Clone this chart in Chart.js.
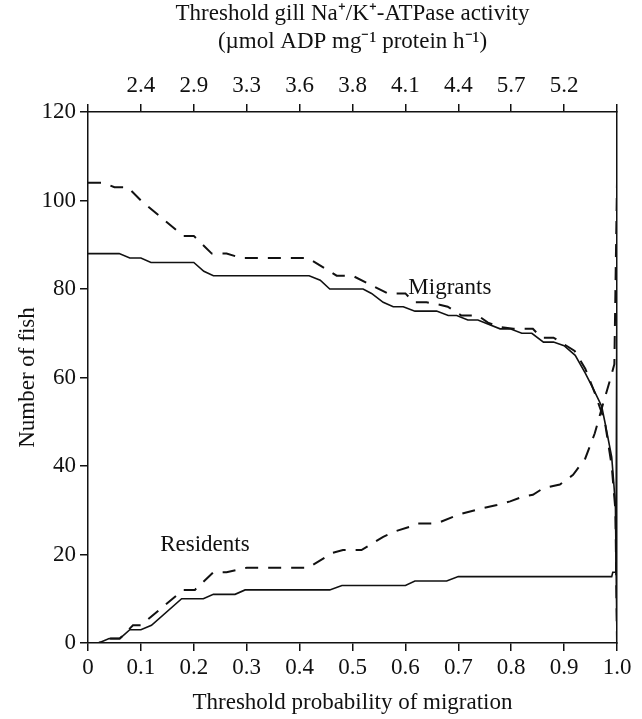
<!DOCTYPE html>
<html>
<head>
<meta charset="utf-8">
<script src="https://cdn.jsdelivr.net/npm/chart.js@4.4.1/dist/chart.umd.min.js"></script>
<style>
  body { margin: 0; background: #fff; }
  #wrap { width: 642px; height: 719px; }
</style>
</head>
<body>
<div id="wrap"><canvas id="fishChart"></canvas></div>
<script>
// --- Data ---
const topTickLabels = ['', '2.4', '2.9', '3.3', '3.6', '3.8', '4.1', '4.4', '5.7', '5.2', ''];

const migrantsX = [0, 0.059, 0.079, 0.1, 0.119, 0.2, 0.219, 0.237, 0.418, 0.439, 0.457, 0.52, 0.536, 0.558, 0.577, 0.596,
  0.618, 0.659, 0.681, 0.697, 0.718, 0.737, 0.779, 0.798, 0.82, 0.839, 0.861, 0.88, 0.9, 0.921, 0.94, 0.955, 0.971,
  0.977, 0.99, 0.994, 0.997, 1.0];
const migrantsY = [88, 88, 87, 87, 86, 86, 84, 83, 83, 82, 80, 80, 79, 77, 76, 76,
  75, 75, 74, 74, 73, 73, 71, 71, 70, 70, 68, 68, 67.2, 65, 61, 57.5, 53.5,
  50, 42, 36, 31, 0];

const migrantsAltX = [0, 0.03, 0.05, 0.075, 0.1, 0.18, 0.2, 0.234, 0.262, 0.29, 0.416, 0.47, 0.5, 0.567, 0.6, 0.616,
  0.64, 0.662, 0.68, 0.706, 0.737, 0.756, 0.779, 0.804, 0.841, 0.857, 0.88, 0.9, 0.92, 0.94, 0.958, 0.977,
  0.99, 0.997, 1.0];
const migrantsAltY = [104, 104, 103, 103, 100, 92, 92, 88, 88, 87, 87, 83, 83, 79, 79, 77,
  77, 76.5, 76, 74, 74, 72.4, 71.4, 71, 71, 69, 69, 67.5, 66, 62, 56.5, 50,
  40, 30, 0];

const residentsX = [0, 0.02, 0.04, 0.06, 0.079, 0.1, 0.12, 0.177, 0.218, 0.237, 0.278, 0.297, 0.457, 0.48, 0.6,
  0.618, 0.678, 0.7, 0.99, 0.992, 0.998, 1.0];
const residentsY = [0, 0, 1, 1, 3, 3, 4, 10, 10, 11, 11, 12, 12, 13, 13,
  14, 14, 15, 15, 16, 16, 88];

const residentsAltX = [0, 0.02, 0.04, 0.06, 0.085, 0.1, 0.18, 0.202, 0.237, 0.262, 0.3, 0.416, 0.463, 0.482, 0.517,
  0.558, 0.58, 0.609, 0.621, 0.659, 0.7, 0.747, 0.773, 0.798, 0.82, 0.841, 0.861, 0.892, 0.917, 0.94, 0.958,
  0.974, 0.987, 0.995, 1.0];
const residentsAltY = [0, 0, 1, 1, 4, 4, 12, 12, 16, 16, 17, 17, 20.4, 21, 21,
  24, 25.2, 26.3, 27, 27, 29, 30.5, 31.2, 32, 33, 33.5, 35, 35.8, 38, 41.7, 47.4,
  54.2, 59.5, 63, 104];

// curve labels, in data units
const curveLabels = [
  { text: 'Migrants', x: 0.684, y: 80.2 },
  { text: 'Residents', x: 0.221, y: 22.1 }
];

const serif = "'Liberation Serif', 'Times New Roman', serif";

function toPoints(xs, ys) {
  return xs.map((x, i) => ({ x: x, y: ys[i] }));
}

function lineSet(xs, ys, dashed) {
  return {
    data: toPoints(xs, ys),
    borderColor: '#111',
    borderWidth: dashed ? 2 : 1.6,
    borderDash: dashed ? [13, 10] : [],
    pointRadius: 0,
    tension: 0,
    fill: false
  };
}

// --- Plugin for the "Migrants" / "Residents" labels ---
const curveLabelPlugin = {
  id: 'curveLabels',
  afterDatasetsDraw(chart) {
    const ctx = chart.ctx;
    const xs = chart.scales.x;
    const ys = chart.scales.y;
    ctx.save();
    ctx.fillStyle = '#111';
    ctx.font = '23px ' + serif;
    ctx.textAlign = 'center';
    ctx.textBaseline = 'middle';
    curveLabels.forEach(l => {
      ctx.fillText(l.text, xs.getPixelForValue(l.x), ys.getPixelForValue(l.y));
    });
    ctx.restore();
  }
};

const axisGrid = { drawOnChartArea: false, drawTicks: true, tickLength: 8, color: '#111', lineWidth: 1.5 };
const axisBorder = { display: true, color: '#111', width: 1.5 };

new Chart(document.getElementById('fishChart'), {
  type: 'line',
  data: {
    datasets: [
      lineSet(migrantsX, migrantsY, false),
      lineSet(migrantsAltX, migrantsAltY, true),
      lineSet(residentsX, residentsY, false),
      lineSet(residentsAltX, residentsAltY, true)
    ]
  },
  options: {
    responsive: true,
    maintainAspectRatio: false,
    animation: false,
    layout: { padding: 0 },
    plugins: {
      legend: { display: false },
      tooltip: { enabled: false }
    },
    scales: {
      x: {
        type: 'linear',
        position: 'bottom',
        min: 0, max: 1,
        afterFit: s => { s.height = 76; },
        grid: axisGrid,
        border: axisBorder,
        ticks: {
          stepSize: 0.1,
          color: '#111',
          padding: 3,
          maxRotation: 0,
          font: { family: serif, size: 23 },
          callback: v => (v === 0 ? '0' : v.toFixed(1))
        },
        title: {
          display: true,
          text: 'Threshold probability of migration',
          color: '#111',
          font: { family: serif, size: 23, lineHeight: 1.2 },
          padding: { top: 0, bottom: 2 }
        }
      },
      x2: {
        type: 'linear',
        position: 'top',
        min: 0, max: 1,
        afterFit: s => { s.height = 112; },
        grid: axisGrid,
        border: axisBorder,
        ticks: {
          stepSize: 0.1,
          color: '#111',
          padding: 4,
          maxRotation: 0,
          autoSkip: false,
          font: { family: serif, size: 23 },
          callback: (v, i) => topTickLabels[i]
        },
        title: {
          display: true,
          text: ['Threshold gill Na\u207A/K\u207A-ATPase activity', '(\u00B5mol ADP mg\u207B\u00B9 protein h\u207B\u00B9)'],
          color: '#111',
          font: { family: serif, size: 23, lineHeight: 1.22 },
          padding: { top: 0, bottom: 0 }
        }
      },
      y: {
        type: 'linear',
        position: 'left',
        min: 0, max: 120,
        afterFit: s => { s.width = 88; },
        grid: axisGrid,
        border: axisBorder,
        ticks: {
          stepSize: 20,
          color: '#111',
          padding: 4,
          font: { family: serif, size: 23 }
        },
        title: {
          display: true,
          text: 'Number of fish',
          color: '#111',
          font: { family: serif, size: 23, lineHeight: 1.2 },
          padding: { top: 14, bottom: 0 }
        }
      },
      y2: {
        type: 'linear',
        position: 'right',
        min: 0, max: 120,
        afterFit: s => { s.width = 25; },
        grid: { drawOnChartArea: false, drawTicks: false },
        border: axisBorder,
        ticks: { display: false }
      }
    }
  },
  plugins: [curveLabelPlugin]
});
</script>
</body>
</html>
